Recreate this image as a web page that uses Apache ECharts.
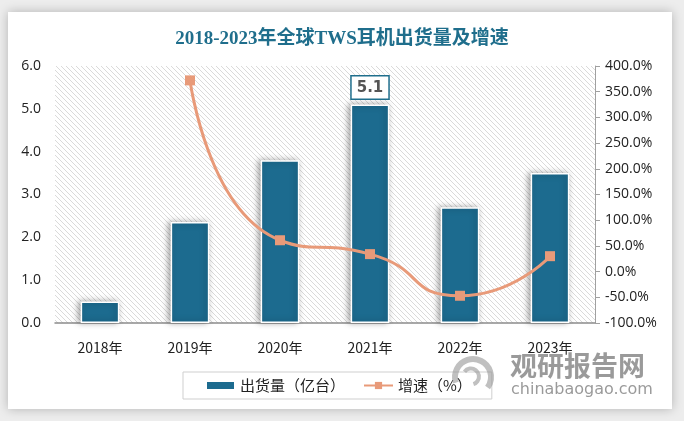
<!DOCTYPE html>
<html>
<head>
<meta charset="utf-8">
<script src="https://cdn.jsdelivr.net/npm/echarts@6/dist/echarts.min.js"></script>
<style>
html,body{margin:0;padding:0;background:#fff;}
#main{width:684px;height:421px;}
</style>
</head>
<body>
<div id="main"></div>
<script>
const categories = ['2018年','2019年','2020年','2021年','2022年','2023年'];
const shipments = [0.5, 2.36, 3.8, 5.1, 2.7, 3.5];
const growth = [null, 372, 61, 34, -47, 30];
const labelledIndex = 3;

const cv = document.createElement('canvas');
cv.width = 5; cv.height = 5;
const cx = cv.getContext('2d');
cx.fillStyle = '#ffffff'; cx.fillRect(0,0,5,5);
cx.strokeStyle = '#dadada'; cx.lineWidth = 1;
cx.beginPath();
cx.moveTo(-1,-1); cx.lineTo(6,6);
cx.moveTo(-1,4); cx.lineTo(1,6);
cx.moveTo(4,-1); cx.lineTo(6,1);
cx.stroke();

const chart = echarts.init(document.getElementById('main'), null, {renderer:'canvas'});
const barColor = '#1C6B8F';
const lineColor = '#E89A79';
chart.setOption({
  backgroundColor: '#ededed',
  animation: false,
  graphic: [
    {type:'rect', left: 8, top: 12, shape:{width:664, height:397}, z:-10,
     style:{fill:'#fff', shadowBlur:10, shadowColor:'rgba(0,0,0,0.25)'}},
    {type:'text', left: 510, top: 352, z: 100,
     style:{text:'观研报告网', fill:'rgba(120,120,120,0.75)', font:'bold 27px "Noto Sans CJK SC"'}},
    {type:'text', left: 511, top: 382, z: 100,
     style:{text:'chinabaogao.com', fill:'rgba(120,120,120,0.75)', font:'16px "DejaVu Sans"'}},
    {type:'arc', left: 452, top: 356, z: 100, shape:{cx:25, cy:20, r:18, startAngle:Math.PI*0.9, endAngle:Math.PI*2.2},
     style:{stroke:'rgba(150,150,150,0.6)', lineWidth:6, fill:null}},
    {type:'arc', left: 462, top: 366, z: 100, shape:{cx:15, cy:10, r:8, startAngle:Math.PI*1.2, endAngle:Math.PI*2.4},
     style:{stroke:'rgba(150,150,150,0.6)', lineWidth:4, fill:null}}
  ],
  title: {
    text: '2018-2023年全球TWS耳机出货量及增速',
    left: 'center', top: 25,
    textStyle: {color:'#1F6E8C', fontSize:19, fontWeight:'bold', fontFamily:'"Liberation Serif", "Noto Sans CJK SC"'}
  },
  grid: {left:55, right:89, top:66, bottom:98, show:true, borderWidth:0,
         backgroundColor:{image:cv, repeat:'repeat'}},
  legend: {
    left: 183, top: 372,
    padding: [6, 20, 6, 22],
    borderColor: '#cfcfcf', borderWidth: 1,
    itemGap: 18, itemWidth: 29, itemHeight: 9,
    textStyle: {fontSize:15, color:'#222', fontFamily:'"Noto Sans CJK SC"'},
    data: [
      {name:'出货量（亿台）', icon:'rect'},
      {name:'增速（%）'}
    ]
  },
  xAxis: {
    type:'category', data: categories,
    axisLine:{lineStyle:{color:'#8c8c8c', width:1.5}},
    axisTick:{show:false},
    axisLabel:{color:'#222', fontSize:14, margin:18, fontFamily:'"Noto Sans CJK SC"'}
  },
  yAxis: [
    {type:'value', min:0, max:6, interval:1,
     axisLine:{show:false}, axisTick:{show:false}, splitLine:{show:false},
     axisLabel:{color:'#222', fontSize:14, margin:14, formatter:v=>v.toFixed(1), fontFamily:'"Open Sans", "DejaVu Sans"'}},
    {type:'value', min:-100, max:400, interval:50, position:'right',
     axisLine:{show:true, lineStyle:{color:'#a0a0a0'}},
     axisTick:{show:true, length:5, lineStyle:{color:'#a0a0a0'}},
     splitLine:{show:false},
     axisLabel:{color:'#222', fontSize:14, margin:10, formatter:v=>v.toFixed(1)+'%', fontFamily:'"Open Sans", "DejaVu Sans"'}}
  ],
  series: [
    {name:'出货量（亿台）', type:'bar', barWidth:'43%',
     data: shipments.map((v,i)=> i===labelledIndex ? {value:v, label:{show:true}} : v),
     itemStyle:{color:barColor, borderColor:'#fff', borderWidth:1.5,
       shadowBlur:6, shadowColor:'rgba(0,0,0,0.35)', shadowOffsetX:-2, shadowOffsetY:0},
     label:{show:false, position:'top', distance:6, formatter:'{c}',
       backgroundColor:'#fff', borderColor:'#1F6E8C', borderWidth:1.5,
       padding:[4,5,3,5], color:'#555', fontSize:15, fontWeight:'bold', fontFamily:'"DejaVu Sans"'}
    },
    {name:'增速（%）', type:'line', yAxisIndex:1, smooth:0.6,
     data: growth, connectNulls:false,
     symbol:'rect', symbolSize:10,
     lineStyle:{color:lineColor, width:3},
     itemStyle:{color:lineColor}
    }
  ]
});
</script>
</body>
</html>
